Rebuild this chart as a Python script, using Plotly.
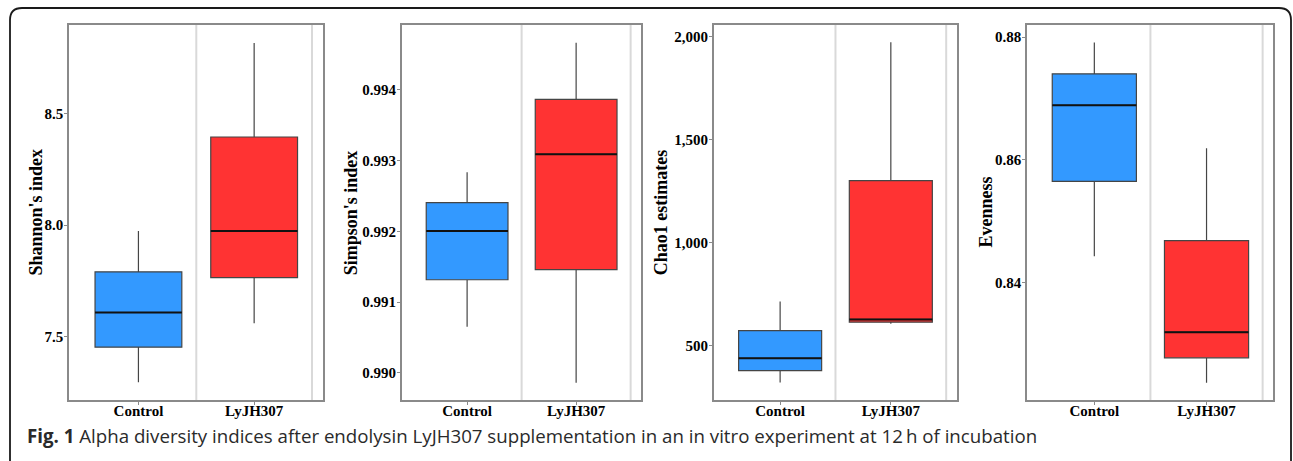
import plotly.graph_objects as go

W, H = 1293, 461

groups = ["Control", "LyJH307"]
group_colors = ["#3399FF", "#FF3333"]

titles = ["Shannon's index", "Simpson's index", "Chao1 estimates", "Evenness"]

# [Control, LyJH307] for each statistic
shannon_low = [7.297, 7.561]
shannon_q1 = [7.454, 7.765]
shannon_med = [7.609, 7.973]
shannon_q3 = [7.791, 8.394]
shannon_high = [7.974, 8.815]

simpson_low = [0.990651, 0.989859]
simpson_q1 = [0.991315, 0.991457]
simpson_med = [0.992005, 0.993090]
simpson_q3 = [0.992406, 0.993868]
simpson_high = [0.992836, 0.994669]

chao1_low = [322, 607]
chao1_q1 = [380, 615]
chao1_med = [440, 628]
chao1_q3 = [574, 1301]
chao1_high = [715, 1971]

even_low = [0.84425, 0.82365]
even_q1 = [0.85647, 0.82769]
even_med = [0.86888, 0.83188]
even_q3 = [0.87400, 0.84682]
even_high = [0.87912, 0.86186]

yticks = [
    [7.5, 8.0, 8.5],
    [0.990, 0.991, 0.992, 0.993, 0.994],
    [500, 1000, 1500, 2000],
    [0.84, 0.86, 0.88],
]
yfmt = [".1f", ".3f", ",", ".2f"]
yranges = [
    [7.2175, 8.895],
    [0.989614, 0.994919],
    [237.6, 2055],
    [0.82082, 0.88196],
]

panels = [
    (shannon_low, shannon_q1, shannon_med, shannon_q3, shannon_high),
    (simpson_low, simpson_q1, simpson_med, simpson_q3, simpson_high),
    (chao1_low, chao1_q1, chao1_med, chao1_q3, chao1_high),
    (even_low, even_q1, even_med, even_q3, even_high),
]

# pixel layout of each plot panel
xdom_px = [(69, 323), (401.7, 641), (713.7, 956.7), (1027, 1273.3)]
title_std = [34, 51, 53, 42]
ytop_px, ybot_px = 25, 400
box_w = 0.75

SERIF = "Liberation Serif, Times New Roman, serif"

fig = go.Figure()
font_tick = dict(family=SERIF, size=15, color="#000000", weight="bold")

for i, (lo, q1, med, q3, hi) in enumerate(panels):
    xa = "x" if i == 0 else f"x{i+1}"
    ya = "y" if i == 0 else f"y{i+1}"
    for j, g in enumerate(groups):
        fig.add_trace(go.Box(
            x=[j + 1], lowerfence=[lo[j]], q1=[q1[j]], median=[med[j]],
            q3=[q3[j]], upperfence=[hi[j]],
            fillcolor=group_colors[j], line=dict(color="#454545", width=1.2),
            width=box_w, whiskerwidth=0, boxpoints=False,
            xaxis=xa, yaxis=ya, showlegend=False, hoverinfo="skip",
        ))
        fig.add_trace(go.Scatter(
            x=[j + 1 - box_w / 2, j + 1 + box_w / 2], y=[med[j], med[j]],
            mode="lines", line=dict(color="#111111", width=2),
            xaxis=xa, yaxis=ya, showlegend=False, hoverinfo="skip",
        ))
    x0, x1 = xdom_px[i]
    xkey = "xaxis" if i == 0 else f"xaxis{i+1}"
    ykey = "yaxis" if i == 0 else f"yaxis{i+1}"
    fig.layout[xkey] = dict(
        domain=[x0 / W, x1 / W], anchor=ya, range=[0.4, 2.595],
        tickmode="array", tickvals=[1, 2], ticktext=groups,
        showgrid=False, zeroline=False, showline=True, mirror=True,
        linecolor="#8a8a8a", linewidth=1.5, ticks="outside", ticklen=3,
        tickcolor="#8a8a8a", tickfont=font_tick, ticklabelstandoff=-7,
    )
    fig.layout[ykey] = dict(
        domain=[1 - ybot_px / H, 1 - ytop_px / H], anchor=xa, range=yranges[i],
        tickmode="array", tickvals=yticks[i], tickformat=yfmt[i],
        showgrid=False, zeroline=False, showline=True, mirror=True,
        linecolor="#8a8a8a", linewidth=1.5, ticks="outside", ticklen=3,
        tickcolor="#8a8a8a", tickfont=font_tick, ticklabelstandoff=-2,
    )
    for xv in [1.5, 2.5]:
        fig.add_shape(type="line", xref=xa, yref=f"{ya} domain", x0=xv, x1=xv,
                      y0=0, y1=1, line=dict(color="#d9d9d9", width=2), layer="below")
    fig.add_annotation(
        text=f"<b>{titles[i]}</b>", xref="paper", yref="paper",
        x=(x0 - title_std[i]) / W, y=1 - ((ytop_px + ybot_px) / 2) / H,
        textangle=-90, showarrow=False, xanchor="center", yanchor="middle",
        font=dict(family=SERIF, size=18, color="#000000"),
    )

# rounded outer frame (open at bottom)
r = 12
lx, rx, ty = 10 / W, 1291 / W, 1 - 8 / H
rxp, ryp = r / W, r / H
path = (f"M {lx},0 L {lx},{ty - ryp} Q {lx},{ty} {lx + rxp},{ty} "
        f"L {rx - rxp},{ty} Q {rx},{ty} {rx},{ty - ryp} L {rx},0")
fig.add_shape(type="path", xref="paper", yref="paper", path=path,
              line=dict(color="#1a1a1a", width=1.8))

fig.add_annotation(
    text="<b>Fig. 1</b> Alpha diversity indices after endolysin LyJH307 supplementation in an in vitro experiment at 12\u2009h of incubation",
    xref="paper", yref="paper", x=25 / W, y=1 - 435 / H, xanchor="left", yanchor="middle",
    showarrow=False, font=dict(family="Open Sans, sans-serif", size=18.7, color="#2a2a2a"),
)

fig.update_layout(
    width=W, height=H, margin=dict(l=0, r=0, t=0, b=0),
    paper_bgcolor="white", plot_bgcolor="white", showlegend=False,
)

fig.write_html("out.html", config={"displayModeBar": False},
               post_script="document.body.style.margin='0px';document.body.style.overflow='hidden';")
